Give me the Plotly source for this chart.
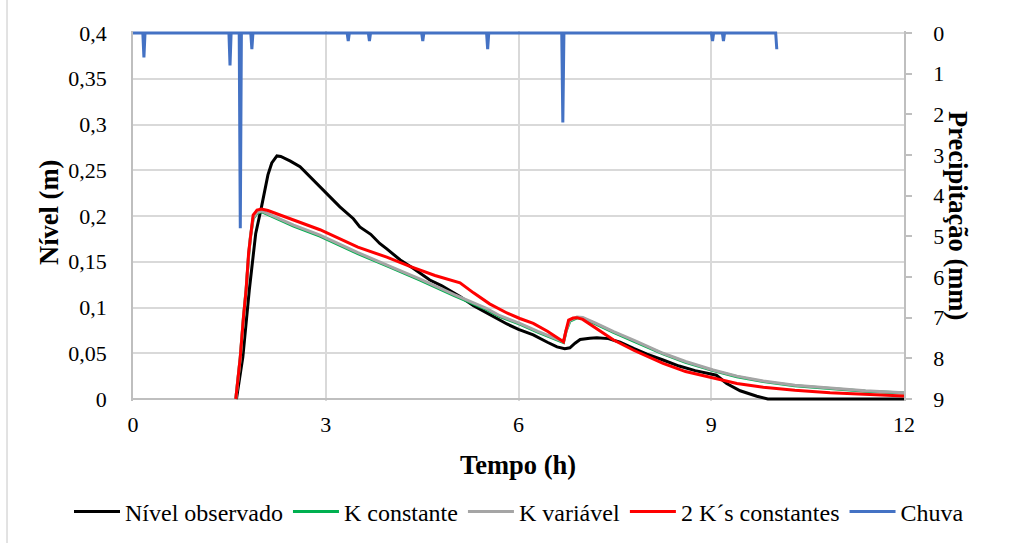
import plotly.graph_objects as go

# Nível observado (m) ao longo do tempo (h)
t_obs = [1.61, 1.71, 1.81, 1.91, 2.00, 2.05, 2.10, 2.16, 2.24, 2.30, 2.45, 2.60,
         2.80, 3.01, 3.22, 3.43, 3.53, 3.70, 3.84, 3.95, 4.16, 4.36, 4.62, 4.80,
         4.93, 5.09, 5.30, 5.55, 5.82, 6.00, 6.23, 6.45, 6.60, 6.72, 6.80, 6.88,
         6.96, 7.11, 7.22, 7.40, 7.58, 7.80, 8.00, 8.25, 8.50, 8.75, 9.03, 9.08,
         9.24, 9.45, 9.71, 9.88, 10.50, 11.00, 12.00]
nivel_obs = [0.000, 0.046, 0.119, 0.181, 0.210, 0.229, 0.245, 0.258, 0.2656, 0.265, 0.260, 0.254,
             0.240, 0.225, 0.210, 0.197, 0.188, 0.180, 0.170, 0.164, 0.152, 0.143, 0.130, 0.124,
             0.119, 0.112, 0.102, 0.092, 0.082, 0.076, 0.070, 0.062, 0.057, 0.055, 0.056, 0.061,
             0.065, 0.0665, 0.067, 0.066, 0.062, 0.055, 0.049, 0.0426, 0.036, 0.031, 0.027, 0.026,
             0.017, 0.009, 0.003, 0.000, 0.000, 0.000, 0.000]

# Modelo com K constante
t_kc = [1.60, 1.67, 1.72, 1.76, 1.80, 1.83, 1.87, 1.93, 2.00, 2.50, 2.91, 3.50,
        4.00, 4.47, 5.00, 5.50, 5.71, 6.02, 6.30, 6.70, 6.74, 6.80, 6.91, 7.00,
        7.20, 7.48, 7.80, 8.25, 8.60, 9.03, 9.40, 9.81, 10.30, 10.85, 11.40, 12.00]
nivel_kc = [0.000, 0.045, 0.089, 0.118, 0.157, 0.178, 0.197, 0.203, 0.2047, 0.189, 0.178, 0.159,
            0.144, 0.130, 0.113, 0.098, 0.090, 0.0818, 0.073, 0.0618, 0.074, 0.085, 0.0887, 0.0882,
            0.0822, 0.0728, 0.063, 0.0492, 0.0402, 0.031, 0.0243, 0.019, 0.0145, 0.0112, 0.0086, 0.0065]

# Modelo com K variável
t_kv = [1.60, 1.67, 1.72, 1.76, 1.80, 1.83, 1.87, 1.93, 2.00, 2.50, 2.91, 3.50,
        4.00, 4.47, 5.00, 5.50, 5.71, 6.02, 6.30, 6.70, 6.74, 6.80, 6.91, 7.00,
        7.20, 7.48, 7.80, 8.25, 8.60, 9.03, 9.40, 9.81, 10.30, 10.85, 11.40, 12.00]
nivel_kv = [0.000, 0.046, 0.090, 0.119, 0.158, 0.179, 0.198, 0.204, 0.2055, 0.190, 0.179, 0.160,
            0.145, 0.131, 0.114, 0.099, 0.091, 0.0827, 0.074, 0.0626, 0.075, 0.086, 0.0895, 0.089,
            0.083, 0.0736, 0.064, 0.050, 0.041, 0.0317, 0.025, 0.0197, 0.015, 0.0117, 0.009, 0.0069]

# Modelo com 2 K's constantes
t_2k = [1.60, 1.67, 1.72, 1.76, 1.80, 1.83, 1.87, 1.93, 2.00, 2.10, 2.30, 2.50,
        2.91, 3.50, 3.95, 4.31, 4.70, 5.09, 5.30, 5.55, 5.82, 6.02, 6.23, 6.45,
        6.70, 6.74, 6.78, 6.85, 6.91, 7.00, 7.20, 7.48, 7.80, 8.25, 8.60, 9.03,
        9.40, 9.81, 10.30, 10.85, 11.40, 12.00]
nivel_2k = [0.000, 0.046, 0.090, 0.119, 0.160, 0.181, 0.201, 0.2065, 0.2075, 0.206, 0.201, 0.196,
            0.185, 0.166, 0.155, 0.145, 0.135, 0.127, 0.116, 0.104, 0.094, 0.088, 0.0827, 0.074,
            0.0626, 0.075, 0.0863, 0.0885, 0.0889, 0.087, 0.078, 0.0645, 0.053, 0.039, 0.030, 0.0226,
            0.017, 0.0128, 0.0095, 0.0069, 0.0048, 0.0033]

# Chuva (mm) registrada a cada minuto
t_chuva = [0.00, 0.153, 0.17, 0.187, 1.493, 1.51, 1.527, 1.653, 1.67, 1.687,
           1.833, 1.85, 1.867, 3.333, 3.35, 3.367, 3.663, 3.68, 3.697, 4.493,
           4.51, 4.527, 5.503, 5.52, 5.537, 6.673, 6.69, 6.707, 9.003, 9.02,
           9.037, 9.173, 9.19, 9.207, 10.003, 10.02]
chuva = [0.0, 0.0, 0.6, 0.0, 0.0, 0.8, 0.0, 0.0, 4.8, 0.0,
         0.0, 0.4, 0.0, 0.0, 0.2, 0.0, 0.0, 0.2, 0.0, 0.0,
         0.2, 0.0, 0.0, 0.4, 0.0, 0.0, 2.2, 0.0, 0.0, 0.2,
         0.0, 0.0, 0.2, 0.0, 0.0, 0.4]

# Eixos
x_ticks = [0, 3, 6, 9, 12]
nivel_ticks = [0, 0.05, 0.1, 0.15, 0.2, 0.25, 0.3, 0.35, 0.4]
nivel_labels = ["0", "0,05", "0,1", "0,15", "0,2", "0,25", "0,3", "0,35", "0,4"]
chuva_ticks = [0, 1, 2, 3, 4, 5, 6, 7, 8, 9]

FONT = "Liberation Serif"
GRID = "#d9d9d9"
AXIS = "#bfbfbf"

fig = go.Figure()
fig.add_trace(go.Scatter(x=t_obs, y=nivel_obs, name="Nível observado", mode="lines",
                         line=dict(color="#000000", width=3)))
fig.add_trace(go.Scatter(x=t_kc, y=nivel_kc, name="K constante", mode="lines",
                         line=dict(color="#00b050", width=3)))
fig.add_trace(go.Scatter(x=t_kv, y=nivel_kv, name="K variável", mode="lines",
                         line=dict(color="#a5a5a5", width=3)))
fig.add_trace(go.Scatter(x=t_2k, y=nivel_2k, name="2 K´s constantes", mode="lines",
                         line=dict(color="#ff0000", width=3)))
fig.add_trace(go.Scatter(x=t_chuva, y=chuva, name="Chuva", mode="lines", yaxis="y2",
                         line=dict(color="#4472c4", width=3)))

# pequena folga para que as linhas nas bordas não sejam cortadas
pad_n = 2 * 0.4 / 366
pad_c = 2 * 9 / 366

tick_font = dict(family=FONT, size=22, color="#000000")
title_font = dict(family=FONT, size=26.5, color="#000000")

fig.update_layout(
    width=1020, height=543,
    margin=dict(l=133, r=116, t=31, b=142, autoexpand=False),
    paper_bgcolor="white", plot_bgcolor="white",
    font=dict(family=FONT, size=22, color="#000000"),
    showlegend=True,
    legend=dict(orientation="h", x=-0.083, xanchor="left", y=-0.30, yanchor="middle",
                font=dict(family=FONT, size=24, color="#000000"),
                itemwidth=46, tracegroupgap=0, bgcolor="rgba(0,0,0,0)"),
    xaxis=dict(range=[0, 12], tickvals=x_ticks, showgrid=True, gridcolor=GRID, gridwidth=1.5,
               zeroline=False, showline=False, ticks="", ticklabelstandoff=8,
               tickfont=tick_font),
    yaxis=dict(range=[-pad_n, 0.4 + pad_n], tickvals=nivel_ticks, ticktext=nivel_labels,
               showgrid=True, gridcolor=GRID, gridwidth=1.5, zeroline=True,
               zerolinecolor=AXIS, zerolinewidth=1.5, showline=True, linecolor=AXIS,
               linewidth=1.5, ticks="", ticklabelstandoff=20, tickfont=tick_font),
    yaxis2=dict(range=[9 + pad_c, -pad_c], tickvals=chuva_ticks, overlaying="y", side="right",
                showgrid=False, zeroline=False, showline=True, linecolor=AXIS, linewidth=1.5,
                ticks="outside", ticklen=6, tickcolor=AXIS, tickwidth=1.5, ticklabelstandoff=17,
                tickfont=tick_font),
    annotations=[
        dict(text="<b>Nível (m)</b>", xref="paper", yref="paper", x=-0.109, y=0.511,
             textangle=-90, showarrow=False, xanchor="center", yanchor="middle",
             font=title_font),
        dict(text="<b>Precipitação (mm)</b>", xref="paper", yref="paper", x=1.070, y=0.50,
             textangle=90, showarrow=False, xanchor="center", yanchor="middle",
             font=title_font),
        dict(text="<b>Tempo (h)</b>", xref="paper", yref="paper", x=0.4994, y=-0.173,
             showarrow=False, xanchor="center", yanchor="middle", font=title_font),
    ],
    shapes=[
        dict(type="line", xref="paper", yref="paper", x0=-0.1634, x1=-0.1634,
             y0=-0.384, y1=1.084, line=dict(color=GRID, width=1.5)),
    ],
)

fig.write_html("out.html")
